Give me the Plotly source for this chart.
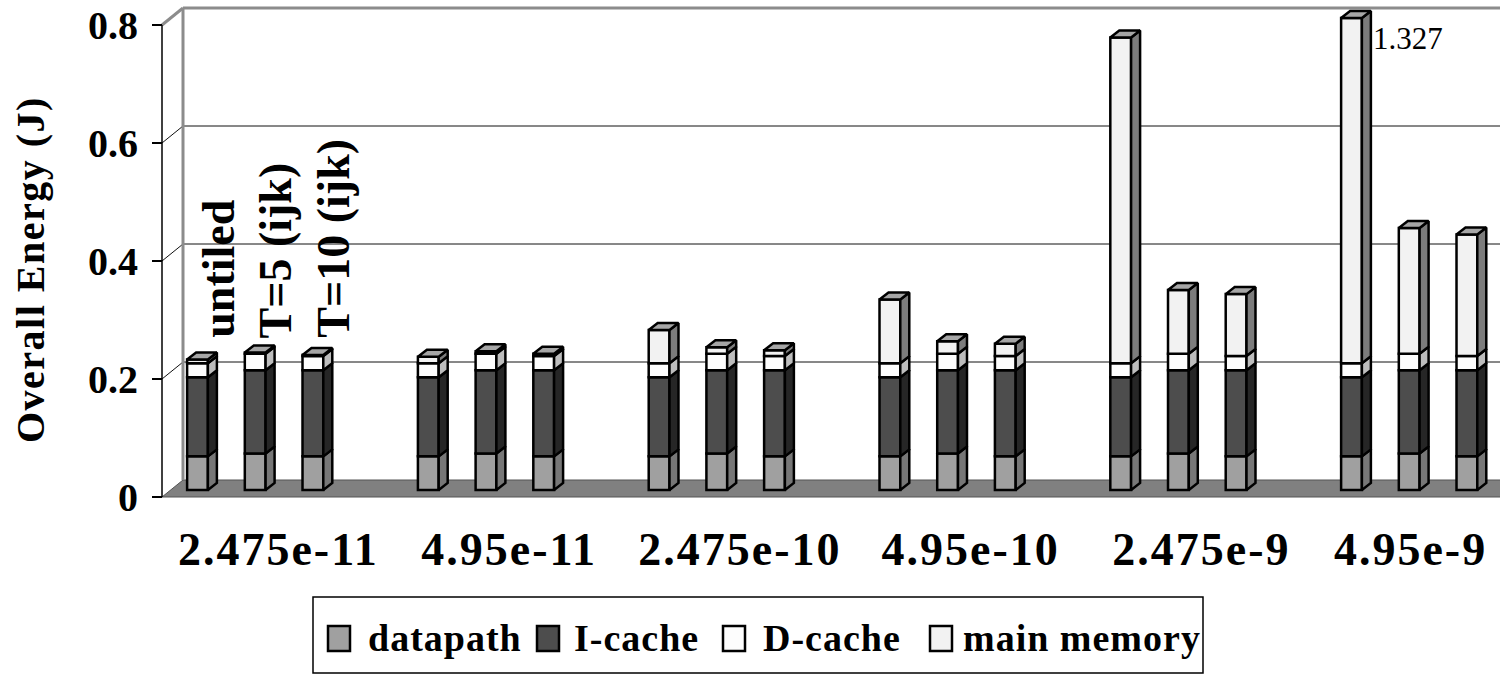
import plotly.graph_objects as go

# ---------------- data (energy in J) ----------------
groups = ["2.475e-11", "4.95e-11", "2.475e-10", "4.95e-10", "2.475e-9", "4.95e-9"]
configs = ["untiled", "T=5 (ijk)", "T=10 (ijk)"]
series = ["datapath", "I-cache", "D-cache", "main memory"]

# one row per main-memory access energy, columns follow `configs`
datapath = [
    [0.057, 0.062, 0.057],
    [0.057, 0.062, 0.057],
    [0.057, 0.062, 0.057],
    [0.057, 0.062, 0.057],
    [0.057, 0.062, 0.057],
    [0.057, 0.062, 0.057],
]
icache = [
    [0.134, 0.141, 0.146],
    [0.134, 0.141, 0.146],
    [0.134, 0.141, 0.146],
    [0.134, 0.141, 0.146],
    [0.134, 0.141, 0.146],
    [0.134, 0.141, 0.146],
]
dcache = [
    [0.024, 0.028, 0.024],
    [0.024, 0.028, 0.024],
    [0.024, 0.028, 0.024],
    [0.024, 0.028, 0.024],
    [0.024, 0.028, 0.024],
    [0.024, 0.028, 0.024],
]
main_memory = [
    [0.006, 0.002, 0.002],
    [0.011, 0.004, 0.004],
    [0.056, 0.011, 0.010],
    [0.108, 0.021, 0.021],
    [0.552, 0.108, 0.105],
    [1.112, 0.213, 0.206],
]
y_ticks = [0, 0.2, 0.4, 0.6, 0.8]

# ---------------- styling / geometry ----------------
W, H = 1500, 678
ML, MR, MT, MB = 150, 0, 0, 170
PW, PH = W - ML - MR, H - MT - MB
SLOT_PX = 57.7          # pixels per bar slot
FIRST_PX = 197.5        # pixel centre of the first bar
UNIT_PX = 590.0         # pixels per joule
ZERO_PX = 497.0         # pixel row of 0 J on the front axis
AXIS_PX = 162.0         # pixel column of the front value axis
YMAX = y_ticks[-1]

x_range = [(ML - FIRST_PX) / SLOT_PX, (W - MR - FIRST_PX) / SLOT_PX]
y_range = [(ZERO_PX - (H - MB)) / UNIT_PX, (ZERO_PX - MT) / UNIT_PX]
XAX = (AXIS_PX - FIRST_PX) / SLOT_PX

# pseudo-3D depth offsets (x in slots, y in J)
WALL_DX, WALL_DY = 21 / SLOT_PX, 17 / UNIT_PX
BAR_Z = 7 / UNIT_PX
BAR_DX, BAR_DY = 9 / SLOT_PX, 7 / UNIT_PX
BAR_W = 0.36

FONT = "Liberation Serif"
front_colors = ["#a0a0a0", "#4d4d4d", "#fdfdfd", "#f2f2f2"]
side_colors = ["#777777", "#262626", "#bdbdbd", "#7c7c7c"]
TOP_COLOR = "#a6a6a6"
WALL_GREY = "#8c8c8c"
OUTLINE = dict(color="black", width=2.5)

values = [datapath, icache, dcache, main_memory]


def slot(g, j):
    return 4 * g + j


def spaced(text, px):
    return f'<span style="letter-spacing:{px}px">{text}</span>'


def paper_x(px):
    return (px - ML) / PW


def paper_y(py):
    return (H - MB - py) / PH


fig = go.Figure()

# stacked segments: front faces as bars, right-hand sides as filled polygons
for s in range(len(series)):
    xs, bases, heights = [], [], []
    sx, sy = [], []
    for g in range(len(groups)):
        for j in range(len(configs)):
            below = sum(values[k][g][j] for k in range(s))
            top = below + values[s][g][j]
            b, t = min(below, YMAX), min(top, YMAX)
            x = slot(g, j)
            xs.append(x)
            bases.append(b + BAR_Z)
            heights.append(t - b)
            xr = x + BAR_W / 2
            sx += [xr, xr + BAR_DX, xr + BAR_DX, xr, xr, None]
            sy += [b + BAR_Z, b + BAR_Z + BAR_DY, t + BAR_Z + BAR_DY, t + BAR_Z, b + BAR_Z, None]
    fig.add_trace(go.Bar(
        x=xs, y=heights, base=bases, width=BAR_W, name=series[s],
        marker=dict(color=front_colors[s], line=OUTLINE),
        showlegend=False, hoverinfo="skip",
    ))
    fig.add_trace(go.Scatter(
        x=sx, y=sy, mode="lines", fill="toself", fillcolor=side_colors[s],
        line=OUTLINE, showlegend=False, hoverinfo="skip",
    ))

# top faces of every column
tx, ty = [], []
for g in range(len(groups)):
    for j in range(len(configs)):
        total = sum(v[g][j] for v in values)
        t = min(total, YMAX) + BAR_Z
        xl, xr = slot(g, j) - BAR_W / 2, slot(g, j) + BAR_W / 2
        tx += [xl, xl + BAR_DX, xr + BAR_DX, xr, xl, None]
        ty += [t, t + BAR_DY, t + BAR_DY, t, t, None]
fig.add_trace(go.Scatter(
    x=tx, y=ty, mode="lines", fill="toself", fillcolor=TOP_COLOR,
    line=OUTLINE, showlegend=False, hoverinfo="skip",
))

# ---------------- walls, floor and axis ----------------
shapes = []
x_far = x_range[1] + 2
bx = XAX + WALL_DX
shapes.append(dict(
    type="path", xref="x", yref="y", layer="below",
    path=f"M {XAX},0 L {bx},{WALL_DY} L {x_far},{WALL_DY} L {x_far},0 Z",
    fillcolor="#808080", line=dict(color="#555555", width=1),
))
for v in y_ticks[1:-1]:
    shapes.append(dict(type="line", xref="x", yref="y", layer="below",
                       x0=bx, x1=x_far, y0=v + WALL_DY, y1=v + WALL_DY,
                       line=dict(color="#111111", width=1)))
    shapes.append(dict(type="line", xref="x", yref="y", layer="below",
                       x0=XAX, x1=bx, y0=v, y1=v + WALL_DY,
                       line=dict(color="#111111", width=1)))
shapes.append(dict(type="line", xref="x", yref="y", layer="below",
                   x0=bx, x1=bx, y0=WALL_DY, y1=YMAX + WALL_DY,
                   line=dict(color=WALL_GREY, width=3)))
shapes.append(dict(type="line", xref="x", yref="y", layer="below",
                   x0=bx, x1=x_far, y0=YMAX + WALL_DY, y1=YMAX + WALL_DY,
                   line=dict(color=WALL_GREY, width=3)))
shapes.append(dict(type="line", xref="x", yref="y", layer="below",
                   x0=XAX, x1=bx, y0=YMAX, y1=YMAX + WALL_DY,
                   line=dict(color=WALL_GREY, width=3)))
shapes.append(dict(type="line", xref="x", yref="y",
                   x0=XAX, x1=XAX, y0=0, y1=YMAX,
                   line=dict(color="black", width=1.5)))

# ---------------- legend ----------------
LEG = dict(x0=313, x1=1203, y0=597, y1=673)
shapes.append(dict(type="rect", xref="paper", yref="paper",
                   x0=paper_x(LEG["x0"]), x1=paper_x(LEG["x1"]),
                   y0=paper_y(LEG["y1"]), y1=paper_y(LEG["y0"]),
                   line=dict(color="black", width=1.5), fillcolor="white"))
legend_square_px = [328, 537, 723, 930]
legend_text_px = [366, 572, 761, 961]
annotations = []
for s in range(len(series)):
    x0 = legend_square_px[s]
    shapes.append(dict(type="rect", xref="paper", yref="paper",
                       x0=paper_x(x0), x1=paper_x(x0 + 22),
                       y0=paper_y(651), y1=paper_y(626),
                       fillcolor=front_colors[s], line=dict(color="black", width=2.5)))
    annotations.append(dict(
        xref="paper", yref="paper", x=paper_x(legend_text_px[s]), y=paper_y(638),
        xanchor="left", yanchor="middle", showarrow=False,
        text=spaced(series[s], 1),
        font=dict(family=FONT, size=38, color="black", weight="bold"),
    ))

# ---------------- text labels ----------------
annotations.append(dict(
    xref="paper", yref="paper", x=paper_x(30), y=paper_y(270),
    xanchor="center", yanchor="middle", showarrow=False, textangle=-90,
    text=spaced("Overall Energy (J)", 1.5),
    font=dict(family=FONT, size=40, color="black", weight="bold"),
))
for j, name in enumerate(configs):
    annotations.append(dict(
        xref="x", yref="y", x=slot(0, j) + 0.35, y=0.266,
        xanchor="center", yanchor="bottom", showarrow=False, textangle=-90,
        text=name, font=dict(family=FONT, size=46, color="black", weight="bold"),
    ))
for g in range(len(groups)):
    for j in range(len(configs)):
        total = sum(v[g][j] for v in values)
        if total > YMAX:
            annotations.append(dict(
                xref="x", yref="y", x=slot(g, j) + BAR_W / 2 + BAR_DX, y=YMAX + BAR_Z - 0.035,
                xanchor="left", yanchor="middle", showarrow=False,
                text=f"{total:.3f}", font=dict(family=FONT, size=31, color="black"),
            ))

# category labels sit just right of each group's middle column,
# kept inside the right edge of the chart
label_pos = [min(slot(g, 1) + 0.4, x_range[1] - 1.55) for g in range(len(groups))]

fig.update_layout(
    width=W, height=H, autosize=False,
    margin=dict(l=ML, r=MR, t=MT, b=MB),
    paper_bgcolor="white", plot_bgcolor="white",
    barmode="overlay", showlegend=False,
    shapes=shapes, annotations=annotations,
    xaxis=dict(
        range=x_range, showgrid=False, zeroline=False, showline=False,
        tickmode="array", tickvals=label_pos,
        ticktext=[spaced(gname, 2) for gname in groups],
        ticks="", ticklabelstandoff=10, ticklabeloverflow="allow",
        tickfont=dict(family=FONT, size=46, color="black", weight="bold"),
    ),
    yaxis=dict(
        range=y_range, showgrid=False, zeroline=False, showline=False,
        anchor="free", position=paper_x(AXIS_PX),
        tickmode="array", tickvals=y_ticks, ticktext=[f"{v:g}" for v in y_ticks],
        ticks="outside", ticklen=10, tickwidth=1.5, tickcolor="black",
        ticklabelstandoff=6,
        tickfont=dict(family=FONT, size=40, color="black", weight="bold"),
    ),
)

fig.write_html("out.html")
